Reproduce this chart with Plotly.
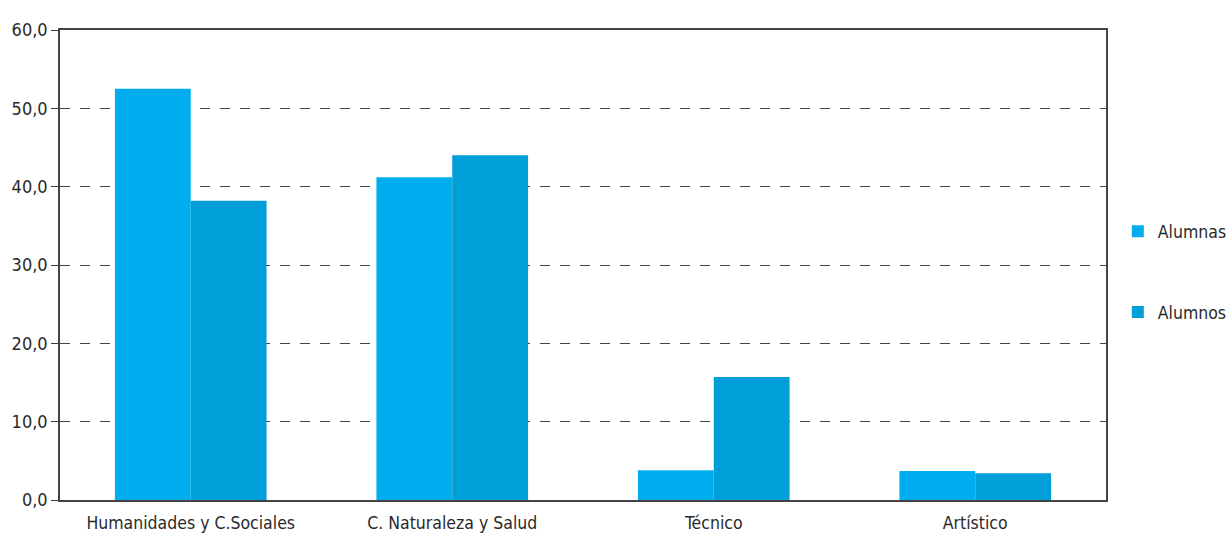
import plotly.graph_objects as go

categories = ["Humanidades y C.Sociales", "C. Naturaleza y Salud", "Técnico", "Artístico"]
alumnas = [52.5, 41.2, 3.8, 3.7]
alumnos = [38.2, 44.0, 15.7, 3.4]
y_ticks = [0, 10, 20, 30, 40, 50, 60]

FONT = "DejaVu Sans Condensed, Liberation Sans Narrow, Arial Narrow, sans-serif"

fig = go.Figure()
fig.add_trace(go.Bar(x=categories, y=alumnas, name="Alumnas", marker_color="#00AEEF",
                     marker_line_width=0, legendgroup="a"))
fig.add_trace(go.Bar(x=categories, y=alumnos, name="Alumnos", marker_color="#009FD9",
                     marker_line_width=0, legendgroup="b"))

fig.update_layout(
    width=1227, height=533,
    margin=dict(l=60, r=121, t=30, b=33),
    plot_bgcolor="white", paper_bgcolor="white",
    barmode="group", bargap=0.42, bargroupgap=0,
    separators=",.",
    font=dict(family=FONT, size=17.5, color="#2a2a2a"),
    legend=dict(xref="container", yref="container", x=0.911, y=0.49,
                xanchor="left", yanchor="middle",
                tracegroupgap=55, font=dict(size=17.5), itemwidth=30),
    showlegend=True,
)
fig.update_yaxes(range=[0, 60], tickvals=y_ticks, tickformat=".1f",
                 tickfont=dict(size=18),
                 showgrid=True, gridcolor="#444", griddash="10px,10px", gridwidth=1.3,
                 showline=True, linecolor="#444", linewidth=1.5, mirror=True,
                 ticks="outside", ticklen=7, tickcolor="#444", zeroline=False,
                 automargin=False)
fig.update_xaxes(showline=True, linecolor="#444", linewidth=1.5, mirror=True,
                 ticks="", showgrid=False, automargin=False, ticklabelstandoff=6,
                 tickfont=dict(size=17.5))

fig.write_html("out.html", config={"displayModeBar": False},
               post_script="document.body.style.margin='0';")
